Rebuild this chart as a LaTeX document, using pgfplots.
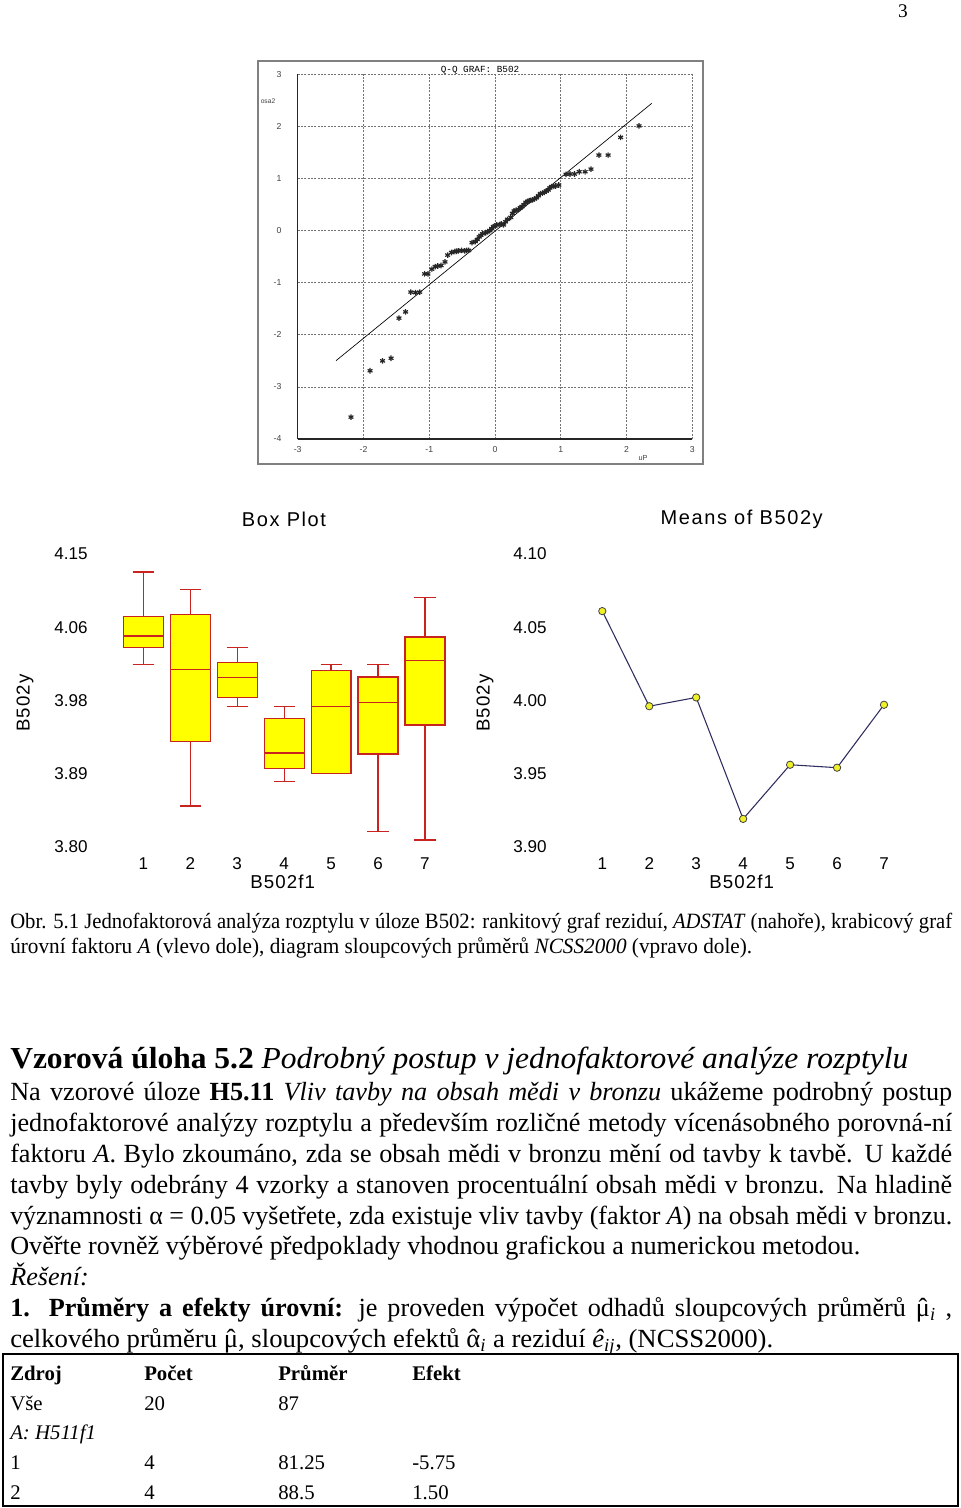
\documentclass[border=0pt]{standalone}
\usepackage{fontspec}
\setmainfont{Liberation Serif}
\newfontfamily\sansf{Liberation Sans}
\newfontfamily\sansls[LetterSpace=6]{Liberation Sans}
\newfontfamily\sanslt[LetterSpace=8]{Liberation Sans}
\newfontfamily\monof{Liberation Mono}
\usepackage{graphicx}
\usepackage{pgfplots}
\pgfplotsset{compat=1.18}
\usepgfplotslibrary{statistics}
\definecolor{boxred}{RGB}{200,35,30}
\definecolor{boxyel}{RGB}{255,255,0}
\definecolor{navyl}{RGB}{45,45,95}
\definecolor{mkyel}{RGB}{240,240,40}
\newlength\px \setlength\px{0.75pt}
\newlength\natw
\newcommand\fitline[2]{\settowidth\natw{#2}\pgfmathsetmacro\fitf{#1*\px/\natw}\scalebox{\fitf}[1]{#2}}
\newcommand\justline[2]{\settowidth\natw{#2}\ifdim\natw>#1\px\relax\pgfmathsetmacro\fitf{#1*\px/\natw}\scalebox{\fitf}[1]{#2}\else\makebox[#1\px][s]{#2}\fi}
\newcommand\muhat{\ooalign{μ\cr\hidewidth ˆ\hidewidth\cr}}
\newcommand\alhat{\ooalign{α\cr\hidewidth ˆ\hidewidth\cr}}
\begin{document}
\begin{tikzpicture}
\begin{scope}[x=0.75pt,y=-0.75pt]
\useasboundingbox (0,0) rectangle (960,1508);
\node[anchor=base, inner sep=0, font=\fontsize{14.5}{16}\selectfont] at (903,18) {3};
% QQ frame
\draw[black!50, line width=1.3pt] (258,61) rectangle (703,464);
\node[font=\monof\fontsize{7}{8}\selectfont, inner sep=0] at (480,70.5) {Q-Q GRAF: B502};
\node[font=\sansf\fontsize{5}{6}\selectfont, text=black!75, inner sep=0] at (268,101) {osa2};
\node[font=\sansf\fontsize{5.5}{6}\selectfont, text=black!75, inner sep=0] at (643,458) {uP};
% box/means titles and labels
\node[font=\sanslt\fontsize{15}{17}\selectfont, inner sep=0] at (284,519) {Box Plot};
\node[font=\sanslt\fontsize{15}{17}\selectfont, inner sep=0] at (741.7,519) {Means of B502y};
\node[font=\sansls\fontsize{14}{16}\selectfont, inner sep=0] at (282.7,881.7) {B502f1};
\node[font=\sansls\fontsize{14}{16}\selectfont, inner sep=0] at (741.7,881.7) {B502f1};
\node[font=\sansls\fontsize{14}{16}\selectfont, inner sep=0, rotate=90] at (25,703) {B502y};
\node[font=\sansls\fontsize{14}{16}\selectfont, inner sep=0, rotate=90] at (485,703) {B502y};
% caption
\node[anchor=base west, inner sep=0] at (10,928) {\fontsize{16.35}{19}\selectfont\justline{942}{Obr. 5.1 Jednofaktorová analýza rozptylu v úloze B502: rankitový graf reziduí, \textit{ADSTAT} (nahoře), krabicový graf}};
\node[anchor=base west, inner sep=0] at (10,953) {\fontsize{16.35}{19}\selectfont\fitline{742}{úrovní faktoru \textit{A} (vlevo dole), diagram sloupcových průměrů \textit{NCSS2000} (vpravo dole).}};
% heading
\node[anchor=base west, inner sep=0] at (10,1068) {\fontsize{22.9}{26}\selectfont\fitline{898}{\textbf{Vzorová úloha 5.2} \textit{Podrobný postup v jednofaktorové analýze rozptylu}}};
% body
\node[anchor=base west, inner sep=0] at (10,1100) {\fontsize{19.65}{23}\selectfont\justline{942}{Na vzorové úloze \textbf{H5.11} \textit{Vliv tavby na obsah mědi v bronzu} ukážeme podrobný postup}};
\node[anchor=base west, inner sep=0] at (10,1131) {\fontsize{19.65}{23}\selectfont\justline{942}{jednofaktorové analýzy rozptylu a především rozličné metody vícenásobného porovná-ní}};
\node[anchor=base west, inner sep=0] at (10,1162) {\fontsize{19.65}{23}\selectfont\justline{942}{faktoru \textit{A}. Bylo zkoumáno, zda se obsah mědi v bronzu mění od tavby k tavbě. U každé}};
\node[anchor=base west, inner sep=0] at (10,1193) {\fontsize{19.65}{23}\selectfont\justline{942}{tavby byly odebrány 4 vzorky a stanoven procentuální obsah mědi v bronzu. Na hladině}};
\node[anchor=base west, inner sep=0] at (10,1224) {\fontsize{19.65}{23}\selectfont\justline{942}{významnosti α = 0.05 vyšetřete, zda existuje vliv tavby (faktor \textit{A}) na obsah mědi v bronzu.}};
\node[anchor=base west, inner sep=0] at (10,1254) {\fontsize{19.65}{23}\selectfont\fitline{850}{Ověřte rovněž výběrové předpoklady vhodnou grafickou a numerickou metodou.}};
\node[anchor=base west, inner sep=0] at (10,1285) {\fontsize{19.65}{23}\selectfont\textit{Řešení:}};
\node[anchor=base west, inner sep=0] at (10,1316) {\fontsize{19.65}{23}\selectfont\justline{942}{\textbf{1. Průměry a efekty úrovní:} je proveden výpočet odhadů sloupcových průměrů \muhat\textsubscript{\textit{i}} ,}};
\node[anchor=base west, inner sep=0] at (10,1347) {\fontsize{19.65}{23}\selectfont\fitline{763}{celkového průměru \muhat , sloupcových efektů \alhat\textsubscript{\textit{i}} a reziduí \textit{ê}\textsubscript{\textit{ij}}, (NCSS2000).}};
% table
\draw[black, line width=2.2pt] (3,1354) rectangle (958,1506);
\begin{scope}[every node/.style={anchor=base west, inner sep=0, font=\fontsize{15.6}{18}\selectfont}]
\node at (10,1380) {\textbf{Zdroj}};
\node at (144,1380) {\textbf{Počet}};
\node at (278,1380) {\textbf{Průměr}};
\node at (412,1380) {\textbf{Efekt}};
\node at (10,1410) {Vše};
\node at (144,1410) {20};
\node at (278,1410) {87};
\node at (10,1439) {\textit{A: H511f1}};
\node at (10,1469) {1};
\node at (144,1469) {4};
\node at (278,1469) {81.25};
\node at (412,1469) {-5.75};
\node at (10,1499) {2};
\node at (144,1499) {4};
\node at (278,1499) {88.5};
\node at (412,1499) {1.50};
\end{scope}
\end{scope}

% Q-Q plot
\begin{axis}[
  at={(297.7*0.75pt,-439*0.75pt)}, anchor=south west,
  scale only axis, width=295.95pt, height=273.5pt,
  xmin=-3, xmax=3, ymin=-4, ymax=3,
  xtick={-3,-2,-1,0,1,2,3}, xticklabels={-3,-2,-1,0,1,2,3},
  ytick={-4,-3,-2,-1,0,1,2,3}, yticklabels={-4,-3,-2,-1,0,1,2,3},
  grid=major, major grid style={dash pattern=on 1.5pt off 1pt, black!55, line width=0.5pt},
  axis x line*=bottom, axis y line*=left,
  axis line style={-, black!85, line width=0.8pt},
  tick style={draw=none},
  ticklabel style={font=\sansf\fontsize{6.5}{7}\selectfont, text=black!75, inner sep=0pt},
  yticklabel style={anchor=east, xshift=-12pt},
  xticklabel style={anchor=north, yshift=-5.5pt},
  clip=false,
]
\addplot[black, line width=0.5pt] coordinates {(-2.417,-2.496) (2.383,2.443)};
\addplot[only marks, mark=asterisk, mark size=2.1pt, mark options={line width=0.9pt, black!85}] coordinates {
(-2.19,-3.58) (-1.90,-2.69) (-1.71,-2.50) (-1.58,-2.45) (-1.46,-1.68) (-1.36,-1.56)
(-1.28,-1.18) (-1.21,-1.19) (-1.145,-1.18) (-1.07,-0.83) (-1.02,-0.83) (-0.96,-0.74)
(-0.91,-0.69) (-0.87,-0.68) (-0.82,-0.67) (-0.76,-0.60) (-0.72,-0.47) (-0.66,-0.42)
(-0.61,-0.40) (-0.585,-0.395) (-0.56,-0.39) (-0.51,-0.38) (-0.46,-0.39) (-0.43,-0.38) (-0.40,-0.38)
(-0.35,-0.23) (-0.30,-0.21) (-0.27,-0.17) (-0.24,-0.12) (-0.215,-0.09) (-0.19,-0.06)
(-0.14,-0.04) (-0.11,-0.02) (-0.08,0.00) (-0.05,0.04) (-0.025,0.076) (0.00,0.09)
(0.026,0.11) (0.077,0.12) (0.10,0.13) (0.13,0.11) (0.16,0.17) (0.19,0.217) (0.24,0.255)
(0.265,0.33) (0.29,0.377) (0.32,0.39) (0.355,0.41) (0.385,0.44) (0.41,0.46) (0.44,0.50)
(0.47,0.543) (0.495,0.56) (0.52,0.575) (0.545,0.58) (0.57,0.59) (0.60,0.61) (0.63,0.63)
(0.66,0.67) (0.69,0.71) (0.72,0.72) (0.75,0.735) (0.78,0.76) (0.81,0.78) (0.835,0.82)
(0.86,0.845) (0.895,0.85) (0.92,0.857) (0.97,0.876) (1.08,1.08) (1.14,1.087) (1.21,1.087)
(1.28,1.13) (1.37,1.13) (1.46,1.18) (1.58,1.45) (1.72,1.45) (1.91,1.79) (2.19,2.01)
};
\end{axis}

% Box plot
\begin{axis}[
  at={(96.35*0.75pt,-846.7*0.75pt)}, anchor=south west,
  scale only axis, width=281.7pt, height=219.5pt,
  xmin=0, xmax=8, ymin=3.80, ymax=4.15,
  xtick={1,2,3,4,5,6,7}, xticklabels={1,2,3,4,5,6,7},
  ytick={3.80,3.8875,3.975,4.0625,4.15}, yticklabels={3.80,3.89,3.98,4.06,4.15},
  axis line style={draw=none}, tick style={draw=none},
  ticklabel style={font=\sansf\fontsize{12.8}{14}\selectfont, inner sep=0pt},
  yticklabel style={anchor=east, xshift=-6.4pt},
  xticklabel style={anchor=north, text height=9.2pt, text depth=0pt, yshift=-7.6pt},
  clip=false,
  boxplot/draw direction=y,
]
\addplot[boxplot prepared={draw position=1, lower whisker=4.018, lower quartile=4.038, median=4.052, upper quartile=4.0755, upper whisker=4.1285, box extend=0.85, whisker extend=0.45}, draw=boxred, fill=boxyel, line width=0.9pt] coordinates {};
\addplot[boxplot prepared={draw position=2, lower whisker=3.8486, lower quartile=3.9256, median=4.012, upper quartile=4.0778, upper whisker=4.108, box extend=0.85, whisker extend=0.45}, draw=boxred, fill=boxyel, line width=0.9pt] coordinates {};
\addplot[boxplot prepared={draw position=3, lower whisker=3.968, lower quartile=3.978, median=4.002, upper quartile=4.0204, upper whisker=4.038, box extend=0.85, whisker extend=0.45}, draw=boxred, fill=boxyel, line width=0.9pt] coordinates {};
\addplot[boxplot prepared={draw position=4, lower whisker=3.878, lower quartile=3.8937, median=3.912, upper quartile=3.953, upper whisker=3.968, box extend=0.85, whisker extend=0.45}, draw=boxred, fill=boxyel, line width=0.9pt] coordinates {};
\addplot[boxplot prepared={draw position=5, lower whisker=3.8877, lower quartile=3.8877, median=3.9674, upper quartile=4.0105, upper whisker=4.018, box extend=0.85, whisker extend=0.45}, draw=boxred, fill=boxyel, line width=0.9pt] coordinates {};
\addplot[boxplot prepared={draw position=6, lower whisker=3.818, lower quartile=3.9108, median=3.9726, upper quartile=4.003, upper whisker=4.018, box extend=0.85, whisker extend=0.45}, draw=boxred, fill=boxyel, line width=0.9pt] coordinates {};
\addplot[boxplot prepared={draw position=7, lower whisker=3.808, lower quartile=3.9455, median=4.0224, upper quartile=4.0507, upper whisker=4.098, box extend=0.85, whisker extend=0.45}, draw=boxred, fill=boxyel, line width=0.9pt] coordinates {};
\end{axis}

% Means plot
\begin{axis}[
  at={(555.35*0.75pt,-846.7*0.75pt)}, anchor=south west,
  scale only axis, width=281.7pt, height=219.5pt,
  xmin=0, xmax=8, ymin=3.90, ymax=4.10,
  xtick={1,2,3,4,5,6,7}, xticklabels={1,2,3,4,5,6,7},
  ytick={3.90,3.95,4.00,4.05,4.10}, yticklabels={3.90,3.95,4.00,4.05,4.10},
  axis line style={draw=none}, tick style={draw=none},
  ticklabel style={font=\sansf\fontsize{12.8}{14}\selectfont, inner sep=0pt},
  yticklabel style={anchor=east, xshift=-6.4pt},
  xticklabel style={anchor=north, text height=9.2pt, text depth=0pt, yshift=-7.6pt},
  clip=false,
]
\addplot[navyl, line width=0.8pt, mark=*, mark size=2.75pt, mark options={fill=mkyel, draw=black!75, line width=0.6pt}] coordinates {(1,4.061) (2,3.996) (3,4.002) (4,3.919) (5,3.956) (6,3.954) (7,3.997)};
\end{axis}
\end{tikzpicture}
\end{document}
